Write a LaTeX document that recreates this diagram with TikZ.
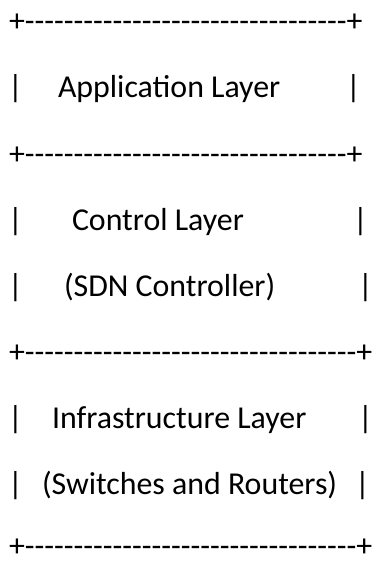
\documentclass[tikz,border=0pt]{standalone}
\usepackage{fontspec}
% keep the real ligatures (ti) but no TeX dash mapping
\setmainfont{Carlito}[Ligatures=TeXOff]
\begin{document}
\begin{tikzpicture}[x=0.75pt,y=-0.75pt,
  every node/.style={inner sep=0pt,outer sep=0pt,anchor=base west,
    font=\fontsize{23.9}{28}\selectfont}]
\useasboundingbox (0,0) rectangle (373,563);
% horizontal rules
\node (r1) at (9,32)  {+---------------------------------+};
\node (r2) at (9,164) {+---------------------------------+};
\node (r3) at (9,362) {+----------------------------------+};
\node (r4) at (9,556) {+----------------------------------+};
% left and right bars
\foreach \y/\xr [count=\i] in {98/346,230/353,296/358,428/358,494/355}{
  \node (bl\i) at (8,\y) {|};
  \node (br\i) at (\xr,\y) {|};
}
% layer labels
\node (app)   at (58,98)  {Application Layer};
\node (ctl)   at (72,230) {Control Layer};
\node (sdn)   at (64,296) {(SDN Controller)};
\node (infra) at (52,428) {Infrastructure Layer};
\node (sw)    at (42,494) {(Switches and Routers)};
\end{tikzpicture}
\end{document}
